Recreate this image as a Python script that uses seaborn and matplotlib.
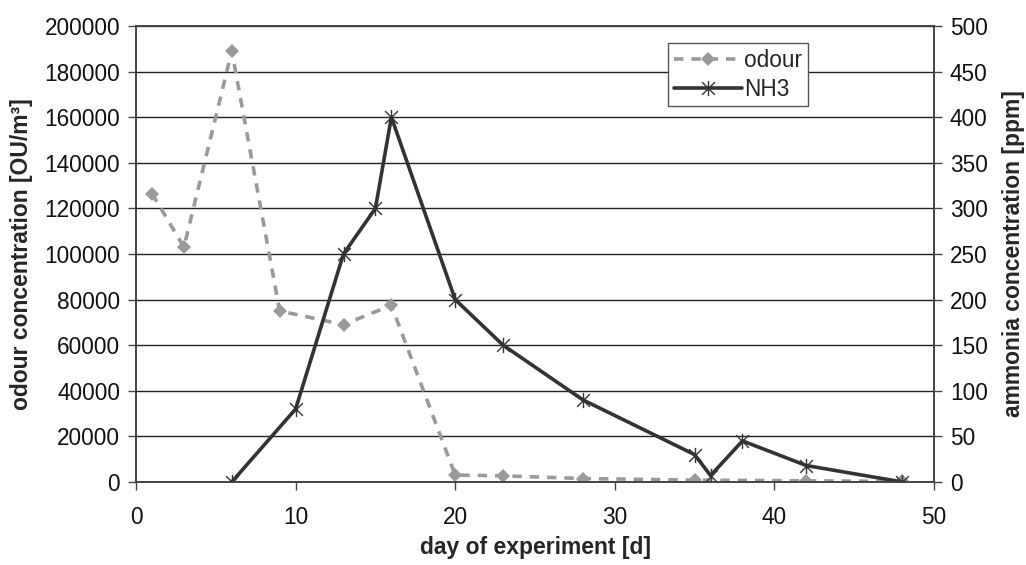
import matplotlib
matplotlib.use("Agg")
import matplotlib.pyplot as plt
from matplotlib.path import Path
import seaborn as sns
import pandas as pd

# odour concentration [OU/m3] by day
odour_days = [1, 3, 6, 9, 13, 16, 20, 23, 28, 35, 42, 48]
odour_vals = [126500, 103000, 189000, 75000, 69000, 77500, 3000, 2700, 1500, 800, 500, 200]

# ammonia concentration [ppm] by day
nh3_days = [6, 10, 13, 15, 16, 20, 23, 28, 35, 36, 38, 42, 48]
nh3_vals = [0, 80, 250, 300, 400, 200, 150, 90, 30, 7, 45, 18, 0]

left_ticks = list(range(0, 200001, 20000))
right_ticks = list(range(0, 501, 50))
x_ticks = list(range(0, 51, 10))

sns.set_style("white")
plt.rcParams["font.family"] = ["Liberation Sans", "DejaVu Sans"]

odour_df = pd.DataFrame({"day": odour_days, "odour": odour_vals})
nh3_df = pd.DataFrame({"day": nh3_days, "NH3": nh3_vals})

fig = plt.figure(figsize=(10.26, 5.65), dpi=100)
ax = fig.add_axes([0.1326, 0.147, 0.9103 - 0.1326, 0.954 - 0.147])
ax2 = ax.twinx()

# star marker: an X crossed by a vertical stroke
star = Path(
    [(-1, -1), (1, 1), (-1, 1), (1, -1), (0, -1.2), (0, 1.2)],
    [Path.MOVETO, Path.LINETO, Path.MOVETO, Path.LINETO, Path.MOVETO, Path.LINETO],
)

sns.lineplot(data=odour_df, x="day", y="odour", ax=ax, color="#9a9a9a",
             linewidth=2.6, linestyle=(0, (2.6, 2.2)), marker="D",
             markersize=7, markeredgewidth=0, label="odour", legend=False)
sns.lineplot(data=nh3_df, x="day", y="NH3", ax=ax2, color="#333333",
             linewidth=2.6, marker=star, markersize=11, markeredgewidth=1.0,
             markeredgecolor="#333333", label="NH3", legend=False)

ax.set_xlim(0, 50)
ax.set_ylim(0, 200000)
ax2.set_ylim(0, 500)
ax.set_xticks(x_ticks)
ax.set_yticks(left_ticks)
ax2.set_yticks(right_ticks)
ax.set_yticklabels([str(v) for v in left_ticks])
ax2.set_yticklabels([str(v) for v in right_ticks])

ax.yaxis.grid(True, color="#222222", linewidth=1.0)
ax.xaxis.grid(False)
ax2.grid(False)

for a in (ax, ax2):
    a.tick_params(axis="both", which="major", direction="out", length=5.5,
                  width=1, color="#444444", labelsize=16.3, pad=6,
                  labelcolor="#111111")
    for s in a.spines.values():
        s.set_color("#444444")
        s.set_linewidth(1.2)

ax.tick_params(axis="x", bottom=True, pad=12)
ax.tick_params(axis="y", left=True)
ax2.tick_params(axis="y", right=True)

ax.set_xlabel("day of experiment [d]", fontsize=16.5, fontweight="bold", labelpad=5)
ax.set_ylabel("odour concentration [OU/m³]", fontsize=16.5, fontweight="bold", labelpad=8)
ax2.set_ylabel("ammonia concentration [ppm]", fontsize=16.5, fontweight="bold", labelpad=10)

h1, l1 = ax.get_legend_handles_labels()
h2, l2 = ax2.get_legend_handles_labels()
leg = ax2.legend(h1 + h2, l1 + l2, loc="upper left",
                 bbox_to_anchor=(0.667, 0.962), fontsize=16.3, frameon=True,
                 fancybox=False, edgecolor="#555555", framealpha=1,
                 handlelength=3.0, handletextpad=0.1, borderpad=0.25,
                 labelspacing=0.25, borderaxespad=0)
leg.get_frame().set_linewidth(1.0)

fig.savefig("out.png", dpi=100)
